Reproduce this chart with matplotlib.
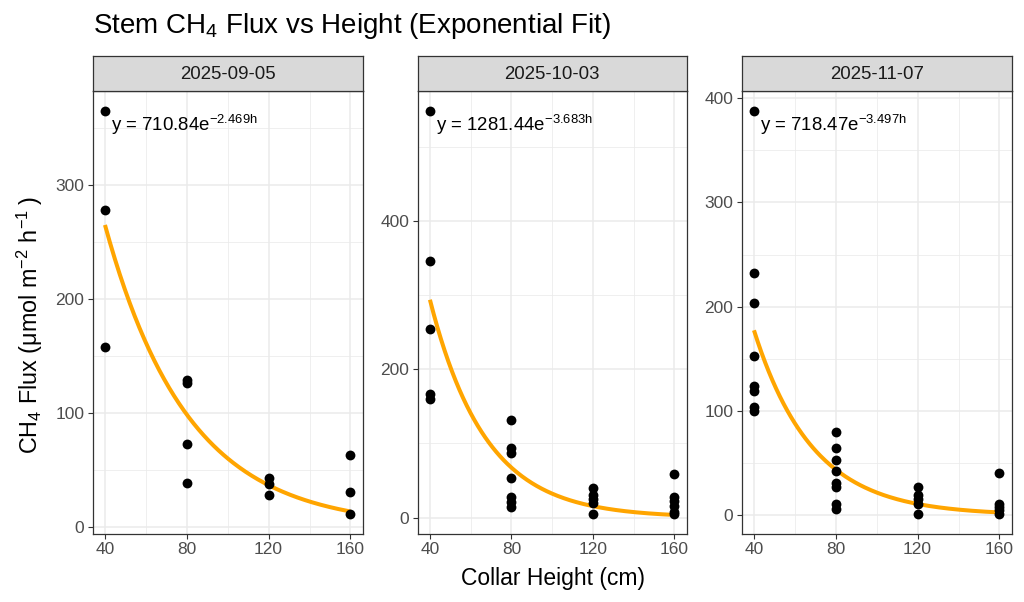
import numpy as np
import matplotlib
matplotlib.use("Agg")
import matplotlib.pyplot as plt
from matplotlib.ticker import FixedLocator

plt.rcParams['font.family'] = ['Liberation Sans', 'DejaVu Sans']
plt.rcParams['mathtext.fontset'] = 'custom'
plt.rcParams['mathtext.rm'] = 'Liberation Sans'
plt.rcParams['mathtext.it'] = 'Liberation Sans:italic'
plt.rcParams['mathtext.bf'] = 'Liberation Sans:bold'
plt.rcParams['mathtext.sf'] = 'Liberation Sans'

# ---------------- data ----------------
dates = ["2025-09-05", "2025-10-03", "2025-11-07"]

height_0905 = [40, 40, 40, 80, 80, 80, 80, 120, 120, 120, 160, 160, 160]
flux_0905 = [364.5, 278, 158, 128.8, 126, 73, 39, 43, 38, 28, 63, 30.6, 11.6]

height_1003 = [40, 40, 40, 40, 40,
               80, 80, 80, 80, 80, 80, 80,
               120, 120, 120, 120, 120,
               160, 160, 160, 160, 160, 160]
flux_1003 = [548, 346, 254, 166.8, 160,
             131, 93.5, 86.8, 54, 28.3, 21.6, 14,
             40, 31, 25, 20, 5,
             59, 28, 22, 15, 8, 5]

height_1107 = [40, 40, 40, 40, 40, 40, 40, 40,
               80, 80, 80, 80, 80, 80, 80, 80,
               120, 120, 120, 120, 120,
               160, 160, 160, 160, 160]
flux_1107 = [387.6, 232, 203.3, 152.7, 124.3, 119.5, 104.2, 100,
             80.3, 64.7, 53.2, 42, 30.6, 26.8, 10.5, 5.7,
             26.8, 19, 15.3, 11, 1.6,
             40.8, 11, 8.3, 5, 1.3]

fit_a = [710.84, 1281.44, 718.47]
fit_b = [2.469, 3.683, 3.497]
eq_labels = ["y = 710.84e$^{\\mathrm{\u22122.469h}}$",
             "y = 1281.44e$^{\\mathrm{\u22123.683h}}$",
             "y = 718.47e$^{\\mathrm{\u22123.497h}}$"]

x_ticks = [40, 80, 120, 160]
y_ticks = [[0, 100, 200, 300], [0, 200, 400], [0, 100, 200, 300, 400]]

heights = [height_0905, height_1003, height_1107]
fluxes = [flux_0905, flux_1003, flux_1107]

# ---------------- layout ----------------
W, H = 1024, 602
fig = plt.figure(figsize=(W / 100, H / 100), dpi=100)
fig.patch.set_facecolor('white')

panel_x = [(92.7, 362.7), (417.7, 686.7), (741.7, 1011.7)]
panel_top, panel_bot = 91.0, 534.0
strip_top = 56.0

border = '#333333'
grid_c = '#EBEBEB'

for i in range(3):
    x0, x1 = panel_x[i]
    ax = fig.add_axes([x0 / W, 1 - panel_bot / H, (x1 - x0) / W,
                       (panel_bot - panel_top) / H])
    hx = np.array(heights[i], dtype=float)
    fy = np.array(fluxes[i], dtype=float)

    ax.scatter(hx, fy, s=50, color='black', zorder=3, linewidths=0)
    xs = np.linspace(min(x_ticks), max(x_ticks), 200)
    ys = fit_a[i] * np.exp(-fit_b[i] * xs / 100.0)
    ax.plot(xs, ys, color='#FFA500', lw=2.9, zorder=2, solid_capstyle='butt')

    xr = max(x_ticks) - min(x_ticks)
    ax.set_xlim(min(x_ticks) - 0.05 * xr, max(x_ticks) + 0.05 * xr)
    yr = fy.max() - fy.min()
    ax.set_ylim(fy.min() - 0.05 * yr, fy.max() + 0.05 * yr)

    ax.xaxis.set_major_locator(FixedLocator(x_ticks))
    ax.xaxis.set_minor_locator(FixedLocator([60, 100, 140]))
    yt = y_ticks[i]
    step = yt[1] - yt[0]
    ax.yaxis.set_major_locator(FixedLocator(yt))
    ax.yaxis.set_minor_locator(FixedLocator([v + step / 2 for v in yt]))

    ax.grid(True, which='major', color=grid_c, lw=1.1)
    ax.grid(True, which='minor', color=grid_c, lw=0.55)
    ax.set_axisbelow(True)
    ax.tick_params(which='major', direction='out', length=3.6, width=0.8,
                   color=border, labelcolor='#4D4D4D', labelsize=12.5, pad=2.5)
    ax.tick_params(which='minor', length=0)
    for sp in ax.spines.values():
        sp.set_color(border)
        sp.set_linewidth(0.9)

    ax.annotate(eq_labels[i], xy=(40, fy.max()), xytext=(6.5, -19.5),
                textcoords='offset pixels', ha='left', va='baseline',
                fontsize=13.4, color='black', zorder=4)

    # strip
    sax = fig.add_axes([x0 / W, 1 - panel_top / H, (x1 - x0) / W,
                        (panel_top - strip_top) / H])
    sax.set_facecolor('#D9D9D9')
    sax.set_xticks([])
    sax.set_yticks([])
    for sp in sax.spines.values():
        sp.set_color(border)
        sp.set_linewidth(0.9)
    sax.text(0.5, 0.47, dates[i], ha='center', va='center',
             fontsize=13.4, color='#1A1A1A', transform=sax.transAxes)

fig.text(93.3 / W, 1 - 33.3 / H, "Stem CH$_4$ Flux vs Height (Exponential Fit)",
         ha='left', va='baseline', fontsize=20, color='black')
fig.text(553 / W, 1 - 585 / H, "Collar Height (cm)", ha='center',
         va='baseline', fontsize=16.5, color='black')
fig.text(30 / W, 1 - 325 / H,
         "CH$_4$ Flux (\u03bcmol m$^{\u22122}$ h$^{\u22121}$\u2009)",
         ha='center', va='center', rotation=90, fontsize=16.8, color='black')

fig.savefig('out.png', dpi=100, facecolor='white')
